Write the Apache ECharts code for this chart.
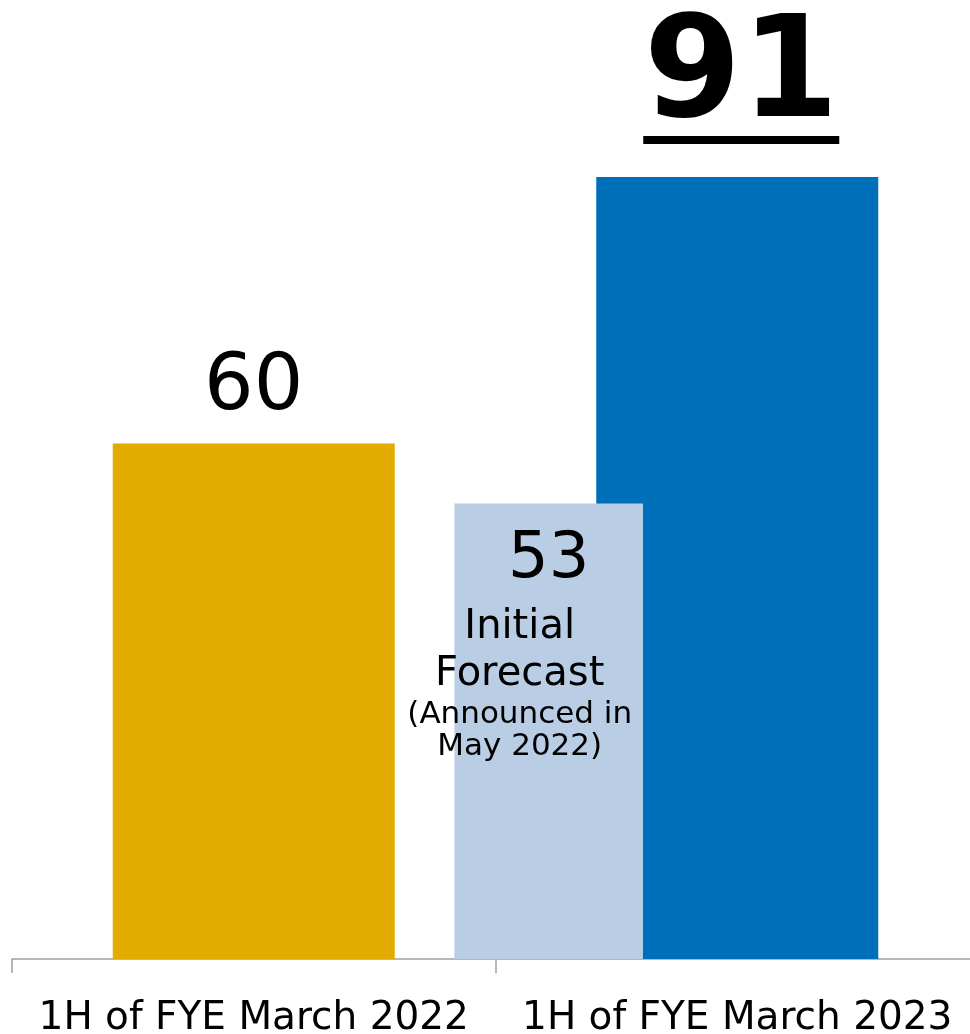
<!DOCTYPE html>
<html>
<head>
<meta charset="utf-8">
<script src="https://cdn.jsdelivr.net/npm/echarts@6/dist/echarts.min.js"></script>
<style>
  html, body { margin: 0; padding: 0; background: #fff; }
  #chart { width: 970px; height: 1034px; }
</style>
</head>
<body>
<div id="chart"></div>
<script>
// Half-year results (billion yen) and the initial forecast for the latest half
const categories = ['1H of FYE March 2022', '1H of FYE March 2023'];
const results = [60, 91];
const forecast = [null, 53];
const forecastTitle = ['Initial', 'Forecast'];
const forecastNote = ['(Announced in', 'May 2022)'];

const FONT = '"DejaVu Sans", Verdana, sans-serif';
const COLORS = { prev: '#E3AA00', curr: '#006FBA', forecast: '#B9CDE5', axis: '#A0A0A0' };

const chart = echarts.init(document.getElementById('chart'), null, { renderer: 'canvas' });

const resultData = results.map((v, i) => {
  const isLatest = i === results.length - 1;
  return {
    value: v,
    itemStyle: { color: isLatest ? COLORS.curr : COLORS.prev },
    label: isLatest ? {
      show: true,
      position: 'top',
      distance: 33,
      offset: [4, 0],
      formatter: '{v|' + v + '}\n{u|}',
      rich: {
        v: { fontSize: 140, fontWeight: 'bold', fontFamily: FONT, color: '#000', lineHeight: 112, align: 'center' },
        u: { width: 196, height: 8, lineHeight: 8, backgroundColor: '#000', align: 'center' }
      }
    } : {
      show: true,
      position: 'top',
      distance: 16,
      fontSize: 78,
      fontFamily: FONT,
      color: '#000'
    }
  };
});

const forecastData = forecast
  .map((v, i) => (v == null ? null : [i, v]))
  .filter(d => d !== null);

function renderForecast(params, api) {
  const idx = api.value(0);
  const val = api.value(1);
  const top = api.coord([idx, val]);
  const base = api.coord([idx, 0]);
  const band = api.size([1, 0])[0];
  const w = band * 0.39;
  const cx = top[0] - band * 0.39;
  const ty = top[1];
  const textCx = cx - 29;
  return {
    type: 'group',
    children: [
      {
        type: 'rect',
        shape: { x: cx - w / 2, y: ty, width: w, height: base[1] - ty },
        style: { fill: COLORS.forecast }
      },
      {
        type: 'text',
        style: { text: String(val), x: cx, y: ty + 89, align: 'center', verticalAlign: 'bottom',
                 font: '64px ' + FONT, fill: '#000' }
      },
      {
        type: 'text',
        style: { text: forecastTitle[0], x: textCx, y: ty + 144, align: 'center', verticalAlign: 'bottom',
                 font: '40px ' + FONT, fill: '#000' }
      },
      {
        type: 'text',
        style: { text: forecastTitle[1], x: textCx, y: ty + 191, align: 'center', verticalAlign: 'bottom',
                 font: '40px ' + FONT, fill: '#000' }
      },
      {
        type: 'text',
        style: { text: forecastNote[0], x: textCx, y: ty + 227, align: 'center', verticalAlign: 'bottom',
                 font: '31px ' + FONT, fill: '#000' }
      },
      {
        type: 'text',
        style: { text: forecastNote[1], x: textCx, y: ty + 259, align: 'center', verticalAlign: 'bottom',
                 font: '31px ' + FONT, fill: '#000' }
      }
    ]
  };
}

chart.setOption({
  animation: false,
  backgroundColor: '#fff',
  grid: { left: 12, top: 0, width: 967, height: 959, containLabel: false, outerBoundsMode: 'none' },
  xAxis: {
    type: 'category',
    data: categories,
    boundaryGap: true,
    axisLine: { show: true, lineStyle: { color: COLORS.axis, width: 1.5 } },
    axisTick: { show: true, length: 14, lineStyle: { color: COLORS.axis, width: 1.5 } },
    axisLabel: { color: '#000', fontSize: 39, fontFamily: FONT, margin: 40, interval: 0 },
    splitLine: { show: false }
  },
  yAxis: {
    type: 'value',
    min: 0,
    max: 111.6,
    show: false,
    splitLine: { show: false }
  },
  series: [
    {
      name: 'Result',
      type: 'bar',
      data: resultData,
      barWidth: 282,
      z: 2
    },
    {
      name: 'Initial Forecast',
      type: 'custom',
      data: forecastData,
      renderItem: renderForecast,
      z: 3
    }
  ]
});
</script>
</body>
</html>
